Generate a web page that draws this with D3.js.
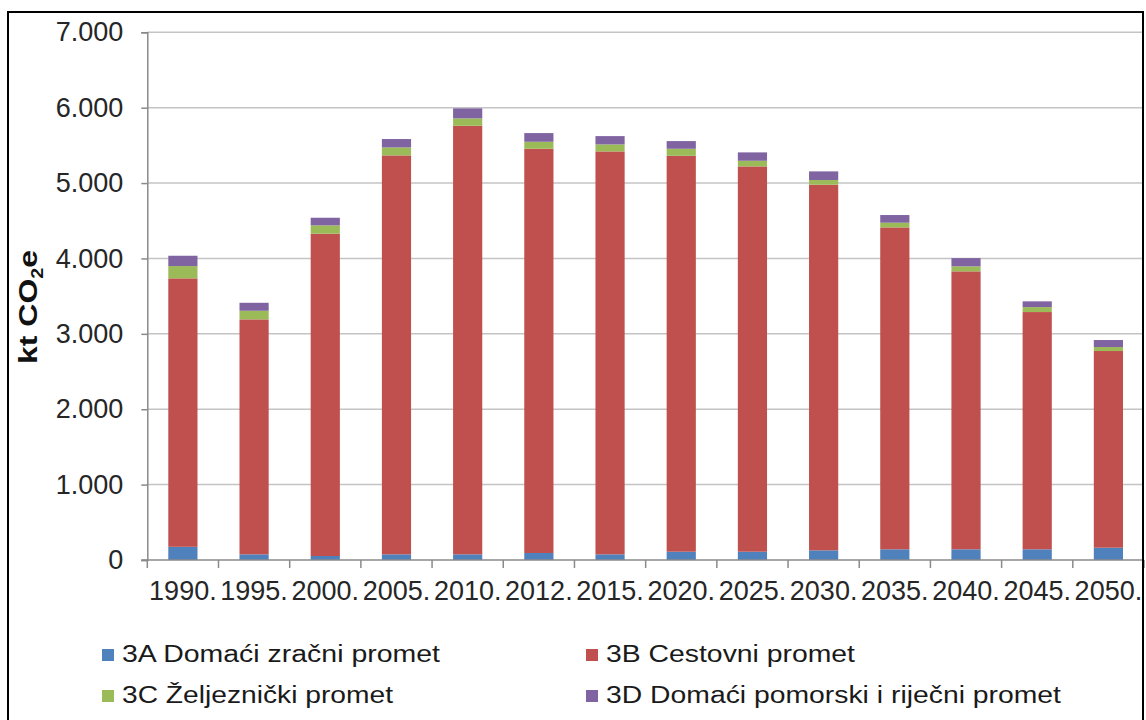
<!DOCTYPE html>
<html>
<head>
<meta charset="utf-8">
<script src="https://cdn.jsdelivr.net/npm/d3@7"></script>
<style>
  html, body { margin: 0; padding: 0; background: #fff; }
  svg { display: block; font-family: "Liberation Sans", Arial, sans-serif; }
</style>
</head>
<body>
<svg id="chart"></svg>
<script>
// data (kt CO2e)
const years = ['1990.', '1995.', '2000.', '2005.', '2010.', '2012.', '2015.',
               '2020.', '2025.', '2030.', '2035.', '2040.', '2045.', '2050.'];
const aviation = [175, 75, 53, 75, 75, 93, 75, 110, 110, 128, 142, 142, 142, 163];
const road     = [3561, 3117, 4275, 5292, 5685, 5362, 5345, 5252, 5111, 4850, 4270, 3687, 3147, 2609];
const rail     = [163, 114, 111, 106, 98, 93, 93, 93, 75, 62, 62, 66, 66, 53];
const maritime = [137, 106, 101, 111, 133, 115, 110, 102, 111, 115, 102, 110, 76, 93];
const yTicks = [0, 1000, 2000, 3000, 4000, 5000, 6000, 7000];
const seriesNames = ['3A Domaći zračni promet', '3B Cestovni promet',
                     '3C Željeznički promet', '3D Domaći pomorski i riječni promet'];
const colors = ['#4F81BD', '#C0504D', '#9BBB59', '#8064A2'];

let width = 1146;
let height = 720;
let plotLeft = 147.3, plotRight = 1144, plotTop = 32.3, plotBottom = 560;

let svg = d3.select('#chart').attr('width', width).attr('height', height);

let rows = years.map((y, i) => ({year: y, a: aviation[i], b: road[i], c: rail[i], d: maritime[i]}));
let keys = ['a', 'b', 'c', 'd'];
let stacked = d3.stack().keys(keys)(rows);

let xScale = d3.scaleBand()
               .domain(years)
               .range([plotLeft, plotRight])
               .paddingInner(0.59)
               .paddingOuter(0.295);

let yScale = d3.scaleLinear()
               .domain([0, 7000])
               .range([plotBottom, plotTop]);

let fmt = d3.formatLocale({decimal: ',', thousands: '.', grouping: [3], currency: ['', '']}).format(',d');

// gridlines
svg.append('g')
   .selectAll('line')
   .data(yTicks.filter(d => d > 0))
   .enter()
   .append('line')
   .attr('x1', plotLeft)
   .attr('x2', plotRight)
   .attr('y1', d => yScale(d))
   .attr('y2', d => yScale(d))
   .attr('stroke', '#c4c4c4')
   .attr('stroke-width', 1.5);

// bars
svg.append('g')
   .selectAll('g')
   .data(stacked)
   .enter()
   .append('g')
   .attr('fill', (d, i) => colors[i])
   .selectAll('rect')
   .data(d => d)
   .enter()
   .append('rect')
   .attr('x', d => xScale(d.data.year))
   .attr('width', xScale.bandwidth())
   .attr('y', d => yScale(d[1]))
   .attr('height', d => yScale(d[0]) - yScale(d[1]));

// y axis
let yAxis = d3.axisLeft(yScale).tickValues(yTicks).tickFormat(fmt).tickSize(6).tickPadding(18);
let gy = svg.append('g')
   .attr('id', 'y-axis')
   .attr('transform', 'translate(' + plotLeft + ',0)')
   .call(yAxis);
gy.select('.domain').attr('stroke', '#8a8a8a').attr('stroke-width', 1.5);
gy.selectAll('.tick line').attr('stroke', '#8a8a8a').attr('stroke-width', 1.5);
gy.selectAll('.tick text')
  .attr('font-size', 27)
  .attr('fill', '#262626')
  .attr('font-family', '"Liberation Sans", Arial, sans-serif');

// x axis: labels at band centers, ticks at band boundaries
let step = xScale.step();
let centers = years.map(y => xScale(y) + xScale.bandwidth() / 2);
let bounds = centers.map(c => c - step / 2).concat([centers[centers.length - 1] + step / 2]);

let gx = svg.append('g').attr('id', 'x-axis');
gx.append('line')
  .attr('x1', plotLeft - 6)
  .attr('x2', plotRight)
  .attr('y1', plotBottom)
  .attr('y2', plotBottom)
  .attr('stroke', '#8a8a8a')
  .attr('stroke-width', 1.5);
gx.selectAll('line.tk')
  .data(bounds)
  .enter()
  .append('line')
  .attr('class', 'tk')
  .attr('x1', d => d)
  .attr('x2', d => d)
  .attr('y1', plotBottom)
  .attr('y2', plotBottom + 8)
  .attr('stroke', '#8a8a8a')
  .attr('stroke-width', 1.5);
gx.selectAll('text')
  .data(years)
  .enter()
  .append('text')
  .attr('x', d => xScale(d) + xScale.bandwidth() / 2)
  .attr('y', 600)
  .attr('text-anchor', 'middle')
  .attr('font-size', 27)
  .attr('fill', '#262626')
  .text(d => d);

// y axis title
let yTitle = svg.append('text')
   .attr('transform', 'translate(37,307) rotate(-90)')
   .attr('text-anchor', 'middle')
   .attr('font-size', 26)
   .attr('font-weight', 'bold')
   .attr('fill', '#111')
   .attr('textLength', 114)
   .attr('lengthAdjust', 'spacingAndGlyphs');
yTitle.append('tspan').text('kt CO');
yTitle.append('tspan').attr('font-size', 16).attr('dy', 6).text('2');
yTitle.append('tspan').attr('dy', -6).text('e');

// legend
let legendItems = [
  {name: seriesNames[0], color: colors[0], x: 102, y: 662, len: 318},
  {name: seriesNames[1], color: colors[1], x: 586, y: 662, len: 249},
  {name: seriesNames[2], color: colors[2], x: 102, y: 703, len: 271},
  {name: seriesNames[3], color: colors[3], x: 586, y: 703, len: 455}
];
let lg = svg.append('g')
   .selectAll('g')
   .data(legendItems)
   .enter()
   .append('g');
lg.append('rect')
  .attr('x', d => d.x)
  .attr('y', d => d.y - 13)
  .attr('width', 12)
  .attr('height', 12)
  .attr('fill', d => d.color);
lg.append('text')
  .attr('x', d => d.x + 20)
  .attr('y', d => d.y)
  .attr('font-size', 23)
  .attr('fill', '#1a1a1a')
  .attr('textLength', d => d.len)
  .attr('lengthAdjust', 'spacingAndGlyphs')
  .text(d => d.name);

// outer frame
svg.append('rect')
   .attr('x', 8)
   .attr('y', 12)
   .attr('width', 1135)
   .attr('height', 760)
   .attr('fill', 'none')
   .attr('stroke', '#000')
   .attr('stroke-width', 2);
</script>
</body>
</html>
